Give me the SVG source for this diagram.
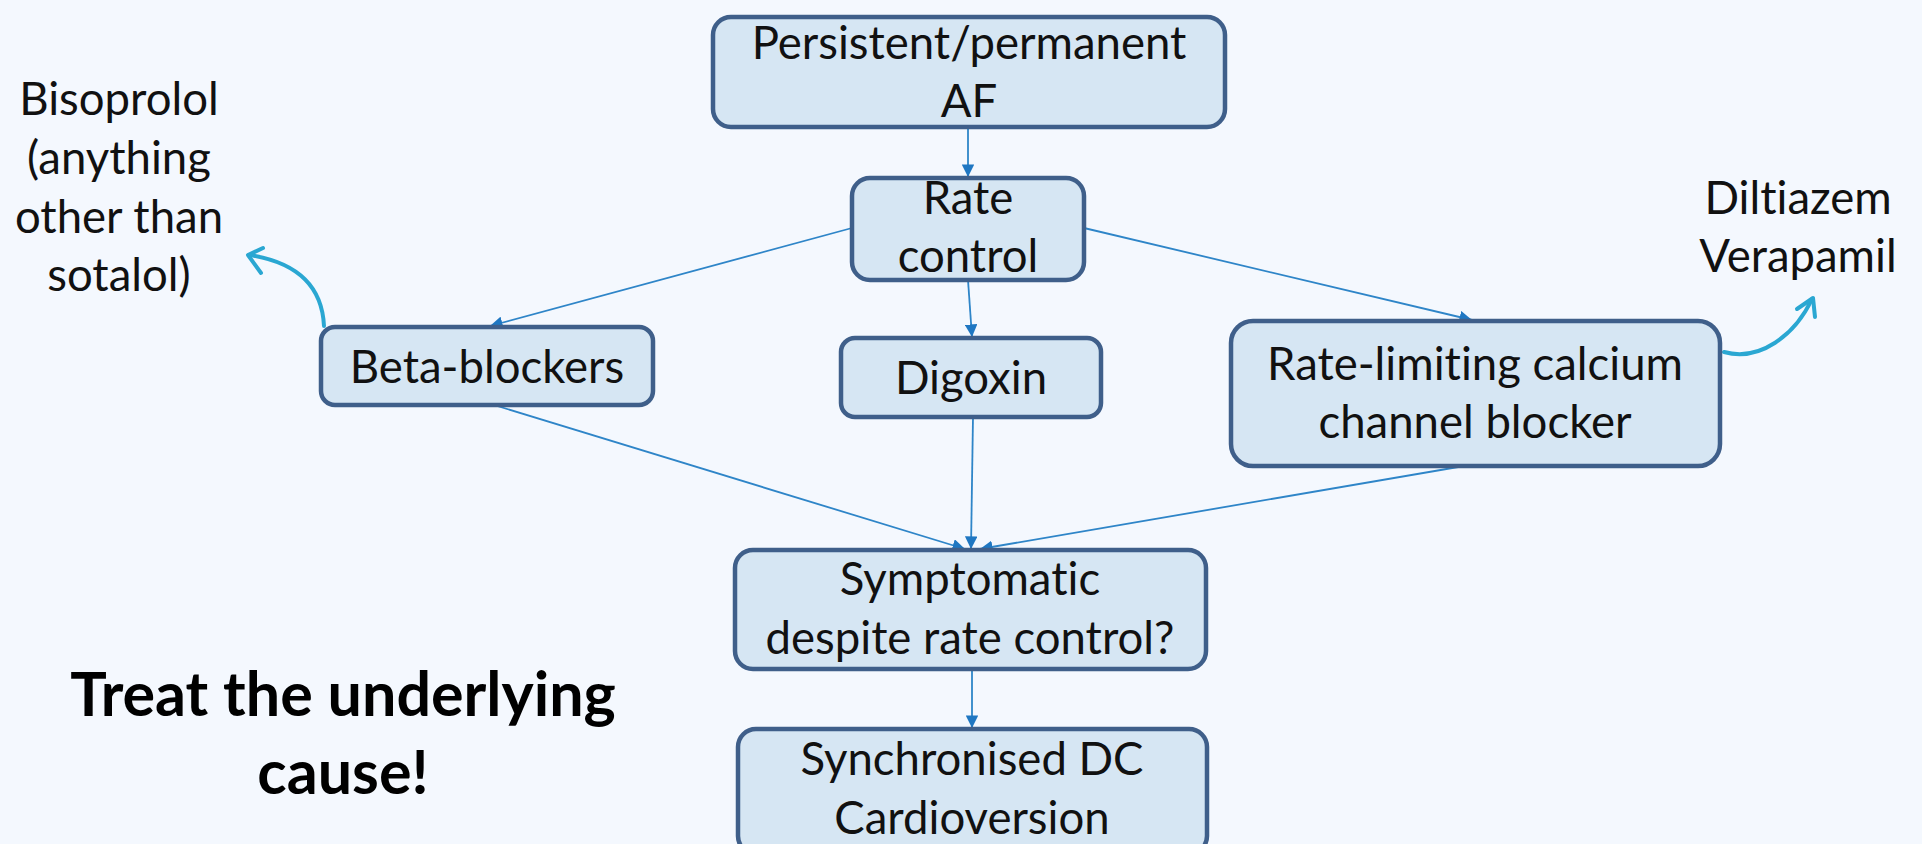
<svg xmlns="http://www.w3.org/2000/svg" width="1922" height="844" viewBox="0 0 1922 844">
<style>
.box{fill:#D6E6F3;stroke:#3F5F8A;stroke-width:4.5}
.t{font-family:Lato,"Liberation Sans",sans-serif;font-size:45.5px;fill:#111;text-anchor:middle;font-variant-ligatures:none}
.b{font-family:Lato,"Liberation Sans",sans-serif;font-size:61px;font-weight:bold;fill:#000;text-anchor:middle}
.c{fill:none;stroke:#2E85C8;stroke-width:1.8}
.cv{fill:none;stroke:#2AA7D2;stroke-width:4;stroke-linecap:round;stroke-linejoin:round}
</style>
<defs>
<marker id="ah" viewBox="0 0 10 10" refX="10" refY="5" markerWidth="7" markerHeight="7" orient="auto" markerUnits="strokeWidth">
<path d="M0,0 L10,5 L0,10 z" fill="#1F77C2"/>
</marker>
</defs>
<rect width="1922" height="844" fill="#F4F8FE"/>
<g id="connectors">
<line class="c" x1="968" y1="128" x2="968" y2="177" marker-end="url(#ah)"/>
<line class="c" x1="852" y1="228" x2="490" y2="326" marker-end="url(#ah)"/>
<line class="c" x1="968" y1="280" x2="972" y2="337" marker-end="url(#ah)"/>
<line class="c" x1="1084" y1="228" x2="1472" y2="320" marker-end="url(#ah)"/>
<line class="c" x1="494" y1="405" x2="965" y2="549" marker-end="url(#ah)"/>
<line class="c" x1="973" y1="417" x2="971" y2="549" marker-end="url(#ah)"/>
<line class="c" x1="1464" y1="466" x2="980" y2="549" marker-end="url(#ah)"/>
<line class="c" x1="972" y1="669" x2="972" y2="728" marker-end="url(#ah)"/>
<path class="cv" d="M324,326 C322,285 295,262 249,255"/>
<path class="cv" d="M263,248 L248,255 L261,273"/>
<path class="cv" d="M1724,352 C1760,362 1795,335 1812,299"/>
<path class="cv" d="M1797,309 L1813,298 L1815,317"/>
</g>
<g id="n-persistent">
<rect class="box" x="713" y="17" width="512" height="110" rx="18"/>
<text class="t" x="969" y="59">Persistent/permanent</text>
<text class="t" x="969" y="117">AF</text>
</g>
<g id="n-rate">
<rect class="box" x="852" y="178" width="232" height="102" rx="18"/>
<text class="t" x="968" y="214">Rate</text>
<text class="t" x="968" y="272">control</text>
</g>
<g id="n-beta">
<rect class="box" x="321" y="327" width="332" height="78" rx="14"/>
<text class="t" x="487" y="383">Beta-blockers</text>
</g>
<g id="n-digoxin">
<rect class="box" x="841" y="338" width="260" height="79" rx="14"/>
<text class="t" x="971" y="394">Digoxin</text>
</g>
<g id="n-ccb">
<rect class="box" x="1231" y="321" width="489" height="145" rx="22"/>
<text class="t" x="1475" y="380">Rate-limiting calcium</text>
<text class="t" x="1475" y="438">channel blocker</text>
</g>
<g id="n-symptomatic">
<rect class="box" x="735" y="550" width="471" height="119" rx="18"/>
<text class="t" x="970" y="595">Symptomatic</text>
<text class="t" x="970" y="654">despite rate control?</text>
</g>
<g id="n-cardioversion">
<rect class="box" x="738" y="729" width="469" height="125" rx="18"/>
<text class="t" x="972" y="775">Synchronised DC</text>
<text class="t" x="972" y="834">Cardioversion</text>
</g>
<g id="n-bisoprolol">
<text class="t" x="119" y="115">Bisoprolol</text>
<text class="t" x="119" y="174">(anything</text>
<text class="t" x="119" y="233">other than</text>
<text class="t" x="119" y="291">sotalol)</text>
</g>
<g id="n-ccb-drugs">
<text class="t" x="1798" y="214">Diltiazem</text>
<text class="t" x="1798" y="272">Verapamil</text>
</g>
<g id="n-treat">
<text class="b" x="343" y="716">Treat the underlying</text>
<text class="b" x="343" y="794">cause!</text>
</g>
</svg>
